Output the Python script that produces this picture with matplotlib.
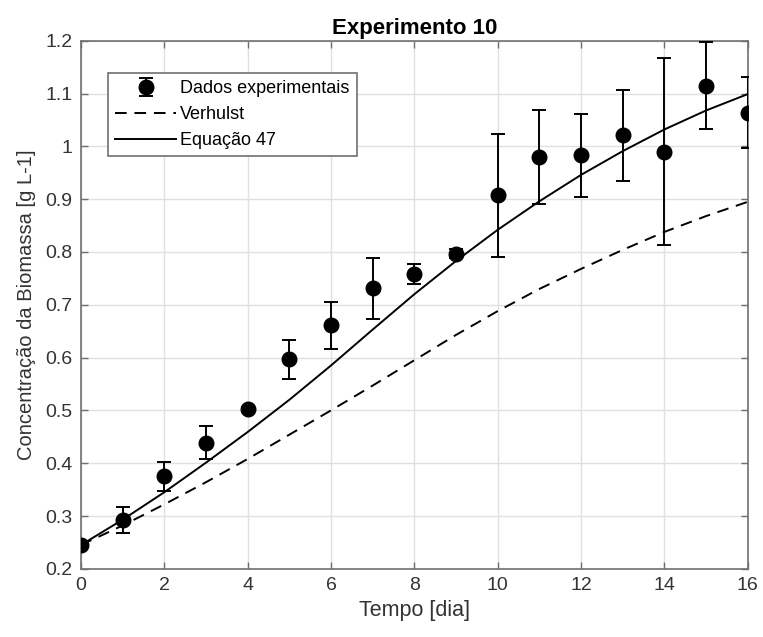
import matplotlib
matplotlib.use("Agg")
import matplotlib.pyplot as plt
from matplotlib.ticker import MultipleLocator

plt.rcParams['font.family'] = ['Liberation Sans', 'DejaVu Sans']

# Experimental data
t_data = [0, 1, 2, 3, 4, 5, 6, 7, 8, 9, 10, 11, 12, 13, 14, 15, 16]
y_data = [0.245, 0.292, 0.375, 0.438, 0.502, 0.598, 0.661, 0.732, 0.758, 0.797,
          0.907, 0.980, 0.984, 1.021, 0.990, 1.115, 1.063]
y_upper = [0.253, 0.318, 0.402, 0.470, 0.507, 0.633, 0.706, 0.788, 0.778, 0.806,
           1.023, 1.068, 1.062, 1.106, 1.167, 1.197, 1.131]
y_lower = [0.237, 0.267, 0.347, 0.408, 0.497, 0.560, 0.616, 0.674, 0.740, 0.788,
           0.790, 0.890, 0.905, 0.934, 0.813, 1.033, 0.996]

# Model curves
t_model = [0, 1, 2, 3, 4, 5, 6, 7, 8, 9, 10, 11, 12, 13, 14, 15, 16]
verhulst = [0.245, 0.282, 0.322, 0.364, 0.408, 0.454, 0.500, 0.547, 0.595, 0.643,
            0.688, 0.730, 0.768, 0.804, 0.838, 0.868, 0.895]
eq47 = [0.245, 0.293, 0.345, 0.401, 0.459, 0.520, 0.585, 0.653, 0.720, 0.783,
        0.842, 0.896, 0.946, 0.991, 1.032, 1.068, 1.099]

yticks = [0.2, 0.3, 0.4, 0.5, 0.6, 0.7, 0.8, 0.9, 1.0, 1.1, 1.2]
ytick_labels = ['0.2', '0.3', '0.4', '0.5', '0.6', '0.7', '0.8', '0.9', '1', '1.1', '1.2']

err_low = [y - l for y, l in zip(y_data, y_lower)]
err_up = [u - y for y, u in zip(y_data, y_upper)]

fig = plt.figure(figsize=(7.63, 6.37), dpi=100)
ax = fig.add_axes([0.106, 0.107, 0.874, 0.829])

axc = '#333333'
spc = '#707070'
h_data = ax.errorbar(t_data, y_data, yerr=[err_low, err_up], fmt='o', color='black',
                     markersize=10.5, capsize=5, elinewidth=1.4, capthick=1.4,
                     label='Dados experimentais', zorder=3)
h_ver, = ax.plot(t_model, verhulst, '--', color='black', lw=1.4, dashes=(6, 4),
                 label='Verhulst')
h_eq, = ax.plot(t_model, eq47, '-', color='black', lw=1.4, label='Equação 47')

ax.set_xlim(0, 16)
ax.set_ylim(0.2, 1.2)
ax.xaxis.set_major_locator(MultipleLocator(2))
ax.set_yticks(yticks)
ax.set_yticklabels(ytick_labels)

ax.grid(True, color='#e0e0e0', lw=1.0)
ax.set_axisbelow(True)
ax.tick_params(direction='in', top=True, right=True, length=5, width=1.0,
               colors=spc, labelsize=14, labelcolor=axc, pad=6)
for s in ax.spines.values():
    s.set_color(spc)
    s.set_linewidth(1.2)

ax.set_xlabel('Tempo [dia]', fontsize=15.5, color=axc, labelpad=4)
ax.set_ylabel('Concentração da Biomassa [g L-1]', fontsize=14.5, color=axc, labelpad=7)
ax.set_title('Experimento 10', fontsize=16, fontweight='bold', color='black', pad=5)

leg = ax.legend([h_data, h_ver, h_eq], ['Dados experimentais', 'Verhulst', 'Equação 47'],
                loc='upper left', bbox_to_anchor=(0.0405, 0.939), fontsize=13,
                frameon=True, fancybox=False, edgecolor=spc, handlelength=3.4,
                handletextpad=0.2, borderpad=0.4, labelspacing=0.5,
                borderaxespad=0, framealpha=1)
leg.get_frame().set_linewidth(1.2)

fig.savefig('out.png', dpi=100)
